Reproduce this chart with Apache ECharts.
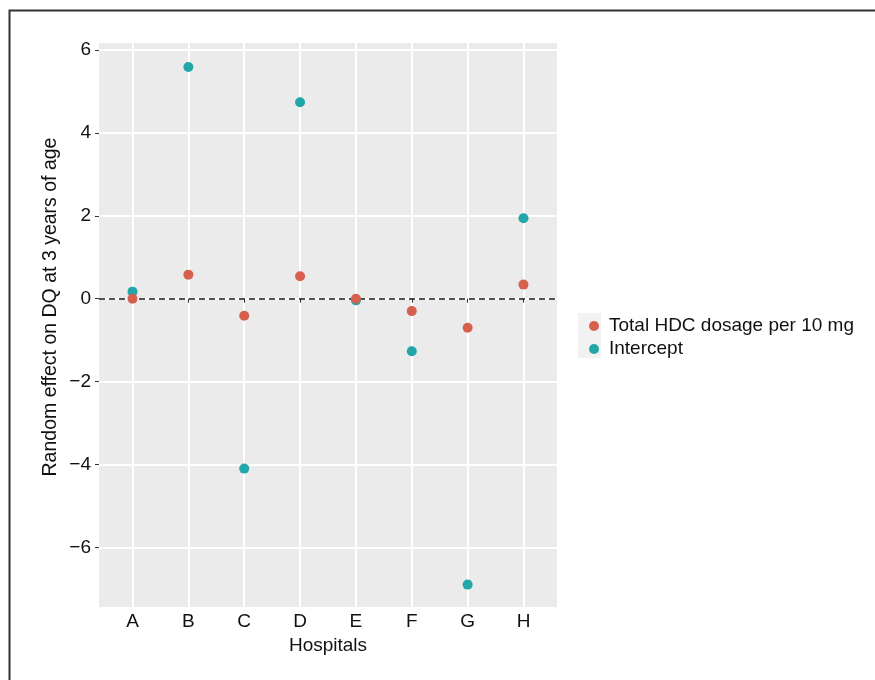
<!DOCTYPE html>
<html>
<head>
<meta charset="utf-8">
<script src="https://cdn.jsdelivr.net/npm/echarts@6/dist/echarts.min.js"></script>
<style>
  html, body { margin: 0; padding: 0; background: #fff; }
  #chart { width: 875px; height: 680px; }
</style>
</head>
<body>
<div id="chart"></div>
<script>
// hospitals on the x axis
const hospitals = ['A', 'B', 'C', 'D', 'E', 'F', 'G', 'H'];
// random effects
const hdcDosage = [0.0, 0.58, -0.41, 0.54, 0.0, -0.30, -0.70, 0.34];
const intercept = [0.17, 5.59, -4.10, 4.74, -0.04, -1.27, -6.90, 1.94];
const yTicks = [-6, -4, -2, 0, 2, 4, 6];

const FONT = '"Liberation Sans", Arial, sans-serif';
const RED = '#d6604d';
const TEAL = '#22a6a8';
const INK = '#111';

const toPoints = vals => vals.map((v, i) => [i + 1, v]);

const chart = echarts.init(document.getElementById('chart'));

chart.setOption({
  animation: false,
  textStyle: { fontFamily: FONT },
  graphic: [
    {
      type: 'rect',
      shape: { x: 9.5, y: 10.5, width: 900, height: 700 },
      style: { fill: 'none', stroke: '#333', lineWidth: 2 },
      silent: true
    },
    {
      // grey key background behind the legend symbols
      type: 'rect',
      shape: { x: 578, y: 313, width: 23, height: 45 },
      style: { fill: '#f2f2f2' },
      silent: true
    },
    {
      type: 'text',
      x: 51, y: 307,
      rotation: Math.PI / 2,
      style: {
        text: 'Random effect on DQ at 3 years of age',
        font: '19.5px ' + FONT,
        fill: INK,
        align: 'center',
        verticalAlign: 'middle'
      },
      silent: true
    }
  ],
  grid: {
    left: 99, top: 43, width: 458, height: 564,
    show: true, backgroundColor: '#ebebeb', borderWidth: 0
  },
  legend: {
    orient: 'vertical',
    left: 584, top: 310,
    data: ['Total HDC dosage per 10 mg', 'Intercept'],
    icon: 'circle',
    itemWidth: 10, itemHeight: 10,
    itemGap: 1,
    textStyle: { fontFamily: FONT, fontSize: 19, color: INK, lineHeight: 22, padding: [0, 0, 0, 5] }
  },
  xAxis: {
    type: 'value',
    min: 0.4, max: 8.6,
    name: 'Hospitals',
    nameLocation: 'middle',
    nameGap: 28,
    nameTextStyle: { fontFamily: FONT, fontSize: 19, color: INK },
    axisLine: { show: false },
    axisTick: {
      show: true, length: 4, customValues: hospitals.map((h, i) => i + 1),
      lineStyle: { color: '#333', width: 1 }
    },
    axisLabel: {
      customValues: hospitals.map((h, i) => i + 1),
      formatter: v => hospitals[Math.round(v) - 1] || '',
      fontSize: 19, color: INK, margin: 5
    },
    splitLine: { show: true, lineStyle: { color: '#fff', width: 2 } }
  },
  yAxis: {
    type: 'value',
    min: -7.44, max: 6.17,
    axisLine: { show: false },
    axisTick: {
      show: true, length: 4, customValues: yTicks,
      lineStyle: { color: '#333', width: 1 }
    },
    axisLabel: {
      customValues: yTicks,
      formatter: v => (v < 0 ? '\u2212' + Math.abs(v) : String(v)),
      fontSize: 19, color: INK, margin: 8
    },
    splitLine: { show: true, lineStyle: { color: '#fff', width: 2 } }
  },
  series: [
    {
      name: 'Intercept',
      type: 'scatter',
      symbolSize: 10,
      itemStyle: { color: TEAL, opacity: 1 },
      data: toPoints(intercept),
      z: 3
    },
    {
      name: 'Total HDC dosage per 10 mg',
      type: 'scatter',
      symbolSize: 10,
      itemStyle: { color: RED, opacity: 1 },
      data: toPoints(hdcDosage),
      z: 4,
      markLine: {
        silent: true,
        symbol: 'none',
        label: { show: false },
        lineStyle: { color: '#1a1a1a', type: [6, 4], width: 1.6, opacity: 1 },
        data: [{ yAxis: 0 }],
        z: 2
      }
    }
  ]
});
</script>
</body>
</html>
